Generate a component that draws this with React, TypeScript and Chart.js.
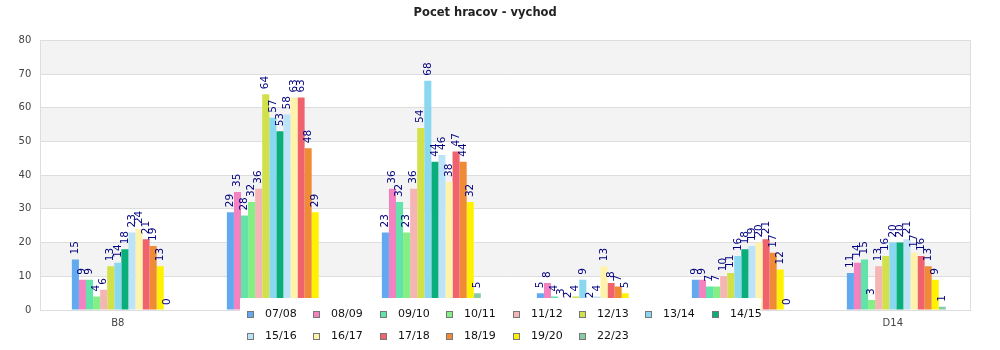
import React, { useEffect, useRef } from "react";
import { Chart, registerables } from "chart.js";

Chart.register(...registerables);

const title = "Pocet hracov - vychod";
const categories = ["B8", "", "", "", "", "D14"];
const seasons = ["07/08", "08/09", "09/10", "10/11", "11/12", "12/13", "13/14", "14/15", "15/16", "16/17", "17/18", "18/19", "19/20", "22/23"];
const yTicks = [0, 10, 20, 30, 40, 50, 60, 70, 80];

const s0708 = [15, 29, 23, 5, 9, 11];
const s0809 = [9, 35, 36, 8, 9, 14];
const s0910 = [9, 28, 32, 4, 7, 15];
const s1011 = [4, 32, 23, 3, 7, 3];
const s1112 = [6, 36, 36, 2, 10, 13];
const s1213 = [13, 64, 54, 4, 11, 16];
const s1314 = [14, 57, 68, 9, 16, 20];
const s1415 = [18, 53, 44, 2, 18, 20];
const s1516 = [23, 58, 46, 4, 19, 21];
const s1617 = [24, 63, 38, 13, 20, 17];
const s1718 = [21, 63, 47, 8, 21, 16];
const s1819 = [19, 48, 44, 7, 17, 13];
const s1920 = [13, 29, 32, 5, 12, 9];
const s2223 = [0, null, 5, null, 0, 1];

const seriesValues = [s0708, s0809, s0910, s1011, s1112, s1213, s1314, s1415, s1516, s1617, s1718, s1819, s1920, s2223];
const colors = ["#63a9f0", "#f283c0", "#62e3a9", "#85ee85", "#f5b5b5", "#d2e04a", "#8ad8f0", "#0aae7a", "#bde3f8", "#fff2aa", "#f0626c", "#ef8a35", "#fff200", "#8acba5"];

const FONT = "'DejaVu Sans', sans-serif";

const bandsPlugin = {
  id: "bands",
  beforeDraw(chart: any) {
    const { ctx, chartArea, scales } = chart;
    const y = scales.y;
    ctx.save();
    ctx.fillStyle = "#f3f3f3";
    for (let i = 0; i < yTicks.length - 1; i++) {
      if (i % 2 === 1) {
        const top = y.getPixelForValue(yTicks[i + 1]);
        const bot = y.getPixelForValue(yTicks[i]);
        ctx.fillRect(chartArea.left, top, chartArea.right - chartArea.left, bot - top);
      }
    }
    ctx.restore();
  },
  afterDatasetsDraw(chart: any) {
    const { ctx, chartArea } = chart;
    ctx.save();
    ctx.strokeStyle = "#dddddd";
    ctx.lineWidth = 1;
    ctx.beginPath();
    const rx = Math.round(chartArea.right) + 0.5;
    ctx.moveTo(rx, chartArea.top);
    ctx.lineTo(rx, chartArea.bottom);
    ctx.stroke();
    // value labels
    ctx.font = "10.5px " + FONT;
    ctx.fillStyle = "#000080";
    ctx.textAlign = "left";
    ctx.textBaseline = "middle";
    chart.data.datasets.forEach((ds: any, di: number) => {
      if (ds.spacer) return;
      const meta = chart.getDatasetMeta(di);
      meta.data.forEach((el: any, i: number) => {
        const v = ds.data[i];
        if (v === null || v === undefined) return;
        ctx.save();
        ctx.translate(el.x, el.y - 5);
        ctx.rotate(-Math.PI / 2);
        ctx.fillText(String(v), 0, 0);
        ctx.restore();
      });
    });
    ctx.restore();
  },
  afterDraw(chart: any) {
    const { ctx, width } = chart;
    const itemW = 66.4;
    const cols = 8;
    const boxW = 521;
    const left = width / 2 + 0.5 - boxW / 2;
    const top = 298;
    ctx.save();
    ctx.fillStyle = "#ffffff";
    ctx.fillRect(left, top, boxW, chart.height - top);
    ctx.font = "11px " + FONT;
    ctx.textAlign = "left";
    ctx.textBaseline = "middle";
    seasons.forEach((s, i) => {
      const col = i % cols;
      const row = Math.floor(i / cols);
      const bx = Math.round(left + 7 + col * itemW);
      const cy = 314.5 + row * 22;
      const by = Math.round(cy - 3.5);
      ctx.fillStyle = colors[i];
      ctx.fillRect(bx, by, 7, 7);
      ctx.strokeStyle = "#777777";
      ctx.lineWidth = 1;
      ctx.strokeRect(bx + 0.5, by + 0.5, 6, 6);
      ctx.fillStyle = "#111111";
      ctx.fillText(s, bx + 18, cy);
    });
    ctx.restore();
  },
};

export default function App() {
  const ref = useRef<HTMLCanvasElement | null>(null);
  useEffect(() => {
    document.body.style.margin = "0";
    if (!ref.current) return;
    const datasets: any[] = [
      { label: "", data: categories.map(() => null), backgroundColor: "transparent", spacer: true },
      ...seasons.map((s, i) => ({
        label: s,
        data: seriesValues[i],
        backgroundColor: colors[i],
        borderWidth: 0,
      })),
    ];
    const chart = new Chart(ref.current, {
      type: "bar",
      data: { labels: categories, datasets },
      options: {
        animation: false,
        responsive: true,
        maintainAspectRatio: false,
        layout: { padding: { top: 0, right: 29.7, bottom: 0, left: 0 } },
        datasets: { bar: { categoryPercentage: 0.684, barPercentage: 1 } },
        plugins: {
          legend: { display: false },
          tooltip: { enabled: false },
          title: {
            display: true,
            text: title,
            color: "#222222",
            font: { family: FONT, size: 11.5, weight: "bold" },
            padding: { top: 6, bottom: 20.5 },
          },
        },
        scales: {
          x: {
            grid: { display: false, drawTicks: false },
            border: { display: true, color: "#dddddd" },
            ticks: { color: "#444444", font: { family: FONT, size: 10 }, padding: 7, maxRotation: 0, autoSkip: false },
            afterFit: (scale: any) => { scale.height = 40; },
          },
          y: {
            min: 0,
            max: 80,
            grid: { color: "#dddddd", drawTicks: false },
            border: { display: true, color: "#dddddd" },
            ticks: { stepSize: 10, color: "#444444", font: { family: FONT, size: 10 }, padding: 9 },
            afterFit: (scale: any) => { scale.width = 40.3; },
          },
        },
      } as any,
      plugins: [bandsPlugin],
    });
    return () => chart.destroy();
  }, []);
  return (
    <div style={{ width: 1000, height: 350, position: "relative" }}>
      <canvas ref={ref} />
    </div>
  );
}
